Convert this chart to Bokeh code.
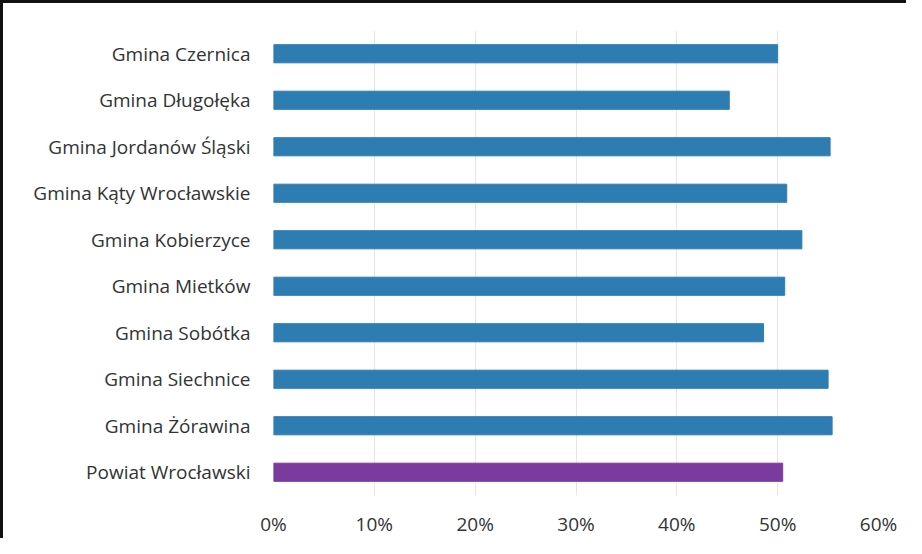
from bokeh.plotting import figure
from bokeh.models import NumeralTickFormatter, FixedTicker, ColumnDataSource
from bokeh.embed import file_html
from bokeh.resources import INLINE

categories = ["Gmina Czernica", "Gmina Długołęka", "Gmina Jordanów Śląski",
              "Gmina Kąty Wrocławskie", "Gmina Kobierzyce", "Gmina Mietków",
              "Gmina Sobótka", "Gmina Siechnice", "Gmina Żórawina",
              "Powiat Wrocławski"]
values = [0.500, 0.452, 0.552, 0.509, 0.524, 0.507, 0.486, 0.550, 0.554, 0.505]
colors = ["#2E7DB2"] * 9 + ["#7A3A9E"]
x_ticks = [0, 0.1, 0.2, 0.3, 0.4, 0.5, 0.6]

src = ColumnDataSource(dict(cat=categories, val=values, color=colors))

p = figure(width=906, height=538, y_range=list(reversed(categories)),
           x_range=(0, 0.6), output_backend="svg", toolbar_location=None,
           min_border_left=270, min_border_right=31, min_border_top=27,
           min_border_bottom=46)
p.styles = {"border-top": "3px solid #111", "border-left": "3px solid #111",
            "box-sizing": "border-box"}

p.hbar(y="cat", right="val", left=0, height=0.39, color="color", source=src)

p.outline_line_color = None
p.ygrid.grid_line_color = None
p.xgrid.grid_line_color = "#e6e6e6"
p.xgrid.grid_line_width = 1
p.xaxis.ticker = FixedTicker(ticks=x_ticks)
p.xaxis.formatter = NumeralTickFormatter(format="0%")
for ax in (p.xaxis, p.yaxis):
    ax.axis_line_color = None
    ax.major_tick_line_color = None
    ax.minor_tick_line_color = None
    ax.major_label_text_font = "Open Sans"
    ax.major_label_text_font_size = "19px"
    ax.major_label_text_color = "#333333"
p.xaxis.major_label_standoff = 9
p.yaxis.major_label_standoff = 17

open("out.html", "w").write(file_html(p, INLINE))
